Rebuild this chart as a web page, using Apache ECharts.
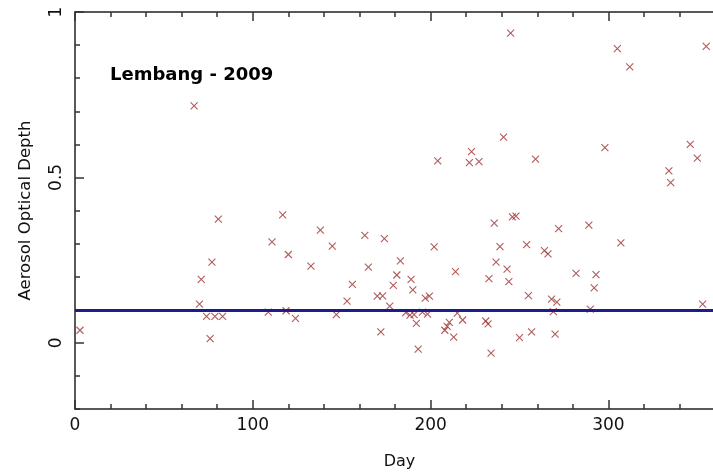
<!DOCTYPE html>
<html>
<head>
<meta charset="utf-8">
<script src="https://cdn.jsdelivr.net/npm/echarts@6/dist/echarts.min.js"></script>
<style>
  html, body { margin: 0; padding: 0; background: #fff; }
  #chart { width: 713px; height: 472px; }
</style>
</head>
<body>
<div id="chart"></div>
<script>
// day of year for each measurement
const days = [
  2.8, 67, 70, 71, 74, 76, 77, 78.7, 80.6, 83,
  108.7, 110.8, 116.8, 118.7, 120, 124, 132.7, 138, 144.7, 147,
  153, 156, 163, 165, 170, 172, 173, 174, 177, 179,
  181, 183, 186, 188.4, 189, 190, 190.7, 192, 193, 195.4,
  197, 198.3, 199.3, 202, 204, 208, 209.3, 210.5, 213, 214,
  215, 218, 221.8, 223, 227.2, 231, 232.3, 232.8, 234, 235.8,
  236.8, 239, 241, 243, 244, 245, 246, 248, 250, 254,
  255, 256.8, 259, 264, 266, 268, 269, 270, 271, 272,
  281.8, 289, 289.8, 292, 293, 298, 305, 307, 312, 334,
  335, 346, 350, 353, 355
]
// aerosol optical depth for each day above
const aod = [
  0.038, 0.716, 0.117, 0.192, 0.080, 0.013, 0.244, 0.080, 0.374, 0.080,
  0.093, 0.305, 0.387, 0.097, 0.267, 0.074, 0.232, 0.341, 0.292, 0.085,
  0.126, 0.177, 0.325, 0.229, 0.141, 0.033, 0.142, 0.315, 0.111, 0.174,
  0.205, 0.248, 0.091, 0.084, 0.192, 0.160, 0.085, 0.059, -0.019, 0.093,
  0.135, 0.087, 0.141, 0.290, 0.550, 0.038, 0.050, 0.062, 0.017, 0.215,
  0.090, 0.069, 0.545, 0.578, 0.548, 0.066, 0.057, 0.194, -0.031, 0.362,
  0.244, 0.291, 0.622, 0.223, 0.185, 0.936, 0.381, 0.383, 0.016, 0.297,
  0.143, 0.033, 0.555, 0.279, 0.269, 0.132, 0.094, 0.026, 0.123, 0.345,
  0.210, 0.356, 0.102, 0.166, 0.206, 0.590, 0.889, 0.302, 0.834, 0.520,
  0.484, 0.600, 0.558, 0.117, 0.896
]
const threshold = 0.1
const xLabels = [0, 100, 200, 300]
const yLabels = [0, 0.5, 1]

const font = 'DejaVu Sans'
const axisColor = '#222'
const tickStyle = { color: '#333', width: 1.5 }
const points = days.map((d, i) => [d, aod[i]])

// minor ticks on one axis, long ticks on an overlapping one
function xAxisPair (position, withLabels) {
  const base = {
    gridIndex: 0,
    type: 'value',
    position: position,
    min: 0,
    max: 365,
    splitLine: { show: false }
  }
  return [
    Object.assign({}, base, {
      interval: 20,
      axisLine: { show: true, onZero: false, lineStyle: { color: axisColor, width: 1.5 } },
      axisTick: { show: true, inside: true, length: 5, lineStyle: tickStyle },
      axisLabel: withLabels
        ? { show: true, customValues: xLabels, margin: 8, color: '#111', fontSize: 17, fontFamily: font }
        : { show: false },
      name: withLabels ? 'Day' : '',
      nameLocation: 'middle',
      nameGap: 45,
      nameTextStyle: { color: '#111', fontSize: 16, fontFamily: font }
    }),
    Object.assign({}, base, {
      axisLine: { show: false, onZero: false },
      axisTick: { show: true, inside: true, length: 9, customValues: xLabels, lineStyle: tickStyle },
      axisLabel: { show: false }
    })
  ]
}

const chart = echarts.init(document.getElementById('chart'), null, { renderer: 'canvas' })
chart.setOption({
  animation: false,
  backgroundColor: '#fff',
  title: {
    text: 'Lembang - 2009',
    left: 110,
    top: 66,
    padding: 0,
    textStyle: { fontFamily: font, fontSize: 18, fontWeight: 'bold', color: '#000' }
  },
  grid: {
    left: 75,
    top: 12,
    width: 649,
    height: 397,
    outerBoundsMode: 'none',
    containLabel: false
  },
  xAxis: [].concat(xAxisPair('bottom', true), xAxisPair('top', false)),
  yAxis: [
    {
      type: 'value',
      position: 'left',
      min: -0.2,
      max: 1,
      interval: 0.1,
      splitLine: { show: false },
      axisLine: { show: true, onZero: false, lineStyle: { color: axisColor, width: 1.5 } },
      axisTick: { show: true, inside: true, length: 5, lineStyle: tickStyle },
      axisLabel: {
        customValues: yLabels,
        rotate: 90,
        margin: 10,
        color: '#111',
        fontSize: 17,
        fontFamily: font
      },
      name: 'Aerosol Optical Depth',
      nameLocation: 'middle',
      nameGap: 41,
      nameTextStyle: { color: '#111', fontSize: 16.5, fontFamily: font }
    },
    {
      type: 'value',
      position: 'left',
      min: -0.2,
      max: 1,
      splitLine: { show: false },
      axisLine: { show: false, onZero: false },
      axisTick: { show: true, inside: true, length: 9, customValues: yLabels, lineStyle: tickStyle },
      axisLabel: { show: false }
    }
  ],
  series: [
    {
      type: 'scatter',
      xAxisIndex: 0,
      yAxisIndex: 0,
      data: points,
      symbol: 'path://M0,0L10,10M10,0L0,10',
      symbolSize: 7,
      itemStyle: { color: 'transparent', borderColor: '#9c3333', borderWidth: 1.1 },
      markLine: {
        silent: true,
        symbol: 'none',
        label: { show: false },
        lineStyle: { color: '#1c1c8f', width: 3, type: 'solid' },
        data: [{ yAxis: threshold }]
      }
    }
  ]
})
</script>
</body>
</html>
